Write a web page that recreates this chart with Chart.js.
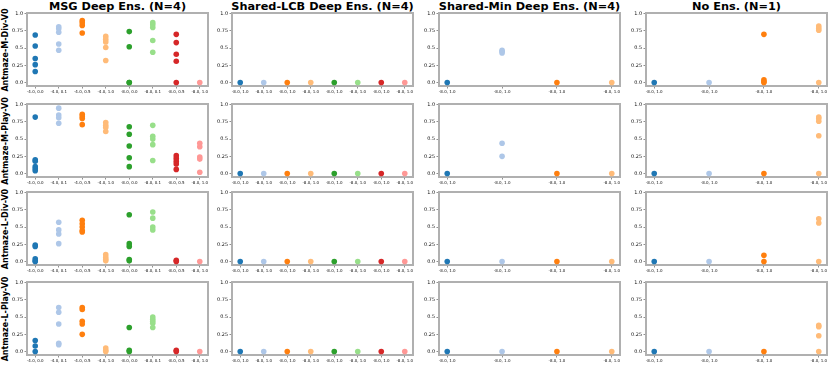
<!DOCTYPE html>
<html>
<head>
<meta charset="utf-8">
<script src="https://cdn.jsdelivr.net/npm/chart.js@4.4.0/dist/chart.umd.min.js"></script>
<style>
  html, body { margin:0; padding:0; background:#fff; }
  #wrap { position:relative; width:830px; height:366px; overflow:hidden; font-family:"DejaVu Sans", sans-serif; }
  canvas { position:absolute; }
  .title { position:absolute; font-weight:bold; font-size:11.3px; line-height:12px; text-align:center; white-space:nowrap; color:#000; }
  .rowlab { position:absolute; font-weight:bold; font-size:8px; line-height:9px; white-space:nowrap; transform:translate(-50%,-50%) rotate(-90deg); color:#000; }
</style>
</head>
<body>
<div id="wrap"></div>
<script>
// ---------- data ----------
const colTitles = ["MSG Deep Ens. (N=4)", "Shared-LCB Deep Ens. (N=4)", "Shared-Min Deep Ens. (N=4)", "No Ens. (N=1)"];
const rowNames = ["Antmaze-M-Div-V0", "Antmaze-M-Play-V0", "Antmaze-L-Div-V0", "Antmaze-L-Play-V0"];
const msgLabels = ["-4.0, 0.0", "-4.0, 0.1", "-4.0, 0.5", "-4.0, 1.0", "-8.0, 0.0", "-8.0, 0.1", "-8.0, 0.5", "-8.0, 1.0"];
const lcbLabels = ["-8.0, 1.0", "-8.0, 1.0", "-8.0, 1.0", "-8.0, 1.0", "-8.0, 1.0", "-8.0, 1.0", "-8.0, 1.0", "-8.0, 1.0"];
const minLabels = ["-8.0, 1.0", "-8.0, 1.0", "-8.0, 1.0", "-8.0, 1.0"];
const noEnsLabels = ["-8.0, 1.0", "-8.0, 1.0", "-8.0, 1.0", "-8.0, 1.0"];
const yTickValues = [0, 0.25, 0.5, 0.75, 1.0];
const yTickLabels = ["0.0", "0.25", "0.5", "0.75", "1.0"];
const pointColors = ["#1f77b4", "#aec7e8", "#ff7f0e", "#ffbb78", "#2ca02c", "#98df8a", "#d62728", "#ff9896"];

// MSG Deep Ens. (one list of run scores per category)
const msgMDiv  = [[0.69,0.53,0.35,0.26,0.16],[0.81,0.78,0.73,0.56,0.47],[0.9,0.87,0.83,0.72],[0.67,0.63,0.59,0.51,0.32],[0.74,0.52,0.0,0.0],[0.87,0.84,0.8,0.61,0.44],[0.7,0.58,0.41,0.31,0.0],[0.0]];
const msgMPlay = [[0.82,0.2,0.18,0.1,0.07,0.04],[0.95,0.85,0.81,0.73],[0.86,0.83,0.8,0.71],[0.74,0.7,0.67,0.61],[0.68,0.57,0.4,0.23,0.1],[0.7,0.54,0.5,0.42,0.19],[0.26,0.22,0.18,0.14,0.06],[0.44,0.39,0.24,0.21,0.02]];
const msgLDiv  = [[0.24,0.22,0.04,0.01,0.0],[0.57,0.46,0.4,0.26],[0.6,0.55,0.5,0.45,0.43],[0.1,0.06,0.03,0.01],[0.68,0.26,0.22,0.03,0.01],[0.72,0.63,0.5,0.46],[0.02,0.0],[0.0]];
const msgLPlay = [[0.16,0.08,0.0],[0.64,0.57,0.4,0.12,0.1],[0.64,0.61,0.44,0.4,0.25],[0.05,0.02,0.0],[0.35,0.02,0.0],[0.5,0.47,0.44,0.41,0.35],[0.02,0.0],[0.0]];
// Shared-LCB Deep Ens.
const lcbMDiv  = [[0],[0],[0],[0],[0],[0],[0],[0]];
const lcbMPlay = [[0],[0],[0],[0],[0],[0],[0],[0]];
const lcbLDiv  = [[0],[0],[0],[0],[0],[0],[0],[0]];
const lcbLPlay = [[0],[0],[0],[0],[0],[0],[0],[0]];
// Shared-Min Deep Ens.
const minMDiv  = [[0],[0.47,0.45,0.43],[0],[0]];
const minMPlay = [[0],[0.44,0.25],[0],[0]];
const minLDiv  = [[0],[0],[0],[0]];
const minLPlay = [[0],[0],[0],[0]];
// No Ens.
const noEnsMDiv  = [[0],[0],[0.7,0.04,0.015,0.0],[0.82,0.79,0.76,0.0]];
const noEnsMPlay = [[0],[0],[0],[0.82,0.8,0.76,0.55,0.0]];
const noEnsLDiv  = [[0],[0],[0.09,0.0],[0.62,0.56,0.0]];
const noEnsLPlay = [[0],[0],[0],[0.38,0.36,0.23,0.0]];

// ---------- layout ----------
const grid = [
  [msgMDiv,  lcbMDiv,  minMDiv,  noEnsMDiv],
  [msgMPlay, lcbMPlay, minMPlay, noEnsMPlay],
  [msgLDiv,  lcbLDiv,  minLDiv,  noEnsLDiv],
  [msgLPlay, lcbLPlay, minLPlay, noEnsLPlay]
];
const colLabels = [msgLabels, lcbLabels, minLabels, noEnsLabels];
const plotLefts = [27, 232, 439, 646];
const plotTops = [13, 104, 192, 282];
const plotW = 181, plotH = 73;
const yAxisW = 27, xAxisH = 12, padTop = 5, padRight = 14;

const wrap = document.getElementById('wrap');

const frame = {
  id: 'frame',
  beforeDatasetsDraw(chart) {
    const a = chart.chartArea, ctx = chart.ctx;
    ctx.save();
    ctx.strokeStyle = '#b0b0b0';
    ctx.lineWidth = 2;
    ctx.strokeRect(a.left, a.top, a.right - a.left, a.bottom - a.top);
    ctx.restore();
  }
};

colTitles.forEach((t, c) => {
  const d = document.createElement('div');
  d.className = 'title';
  d.textContent = t;
  d.style.left = (plotLefts[c] - 20) + 'px';
  d.style.width = (plotW + 40) + 'px';
  d.style.top = '1px';
  wrap.appendChild(d);
});
rowNames.forEach((t, r) => {
  const d = document.createElement('div');
  d.className = 'rowlab';
  d.textContent = t;
  d.style.left = '5px';
  d.style.top = (plotTops[r] + plotH / 2) + 'px';
  wrap.appendChild(d);
});

for (let r = 0; r < 4; r++) {
  for (let c = 0; c < 4; c++) {
    const cats = grid[r][c];
    const labels = colLabels[c];
    const n = labels.length;
    const margin = (n - 1) * 0.05;
    const cv = document.createElement('canvas');
    const W = yAxisW + plotW + padRight, H = padTop + plotH + xAxisH;
    cv.width = W; cv.height = H;
    cv.style.left = (plotLefts[c] - yAxisW) + 'px';
    cv.style.top = (plotTops[r] - padTop) + 'px';
    cv.style.width = W + 'px'; cv.style.height = H + 'px';
    wrap.appendChild(cv);

    const datasets = cats.map((vals, i) => ({
      data: vals.map(v => ({ x: i, y: v })),
      backgroundColor: pointColors[i],
      borderColor: pointColors[i],
      borderWidth: 0,
      pointRadius: 2.8,
      pointHoverRadius: 2.8
    }));

    new Chart(cv, {
      type: 'scatter',
      data: { datasets },
      plugins: [frame],
      options: {
        responsive: false,
        animation: false,
        events: [],
        layout: { padding: { left: 0, top: padTop, right: padRight, bottom: 0 } },
        plugins: { legend: { display: false }, tooltip: { enabled: false } },
        scales: {
          x: {
            type: 'linear',
            min: -margin, max: (n - 1) + margin,
            afterBuildTicks: ax => { ax.ticks = labels.map((_, i) => ({ value: i })); },
            afterFit: ax => { ax.height = xAxisH; },
            ticks: {
              autoSkip: false, maxRotation: 0, minRotation: 0, padding: 1,
              font: { family: 'DejaVu Sans', size: 4 }, color: '#111',
              callback: v => labels[v] !== undefined ? labels[v] : ''
            },
            grid: { display: true, drawOnChartArea: false, drawTicks: true, tickLength: 2.5, color: '#444', lineWidth: 0.6 },
            border: { display: false }
          },
          y: {
            type: 'linear',
            min: -0.05, max: 1.01,
            afterBuildTicks: ax => { ax.ticks = yTickValues.map(v => ({ value: v })); },
            afterFit: ax => { ax.width = yAxisW; },
            ticks: {
              autoSkip: false, padding: 1.5,
              font: { family: 'DejaVu Sans', size: 4.9 }, color: '#111',
              callback: v => { const k = yTickValues.indexOf(v); return k >= 0 ? yTickLabels[k] : ''; }
            },
            grid: { display: true, drawOnChartArea: false, drawTicks: true, tickLength: 2.5, color: '#444', lineWidth: 0.6 },
            border: { display: false }
          }
        }
      }
    });
  }
}
</script>
</body>
</html>
